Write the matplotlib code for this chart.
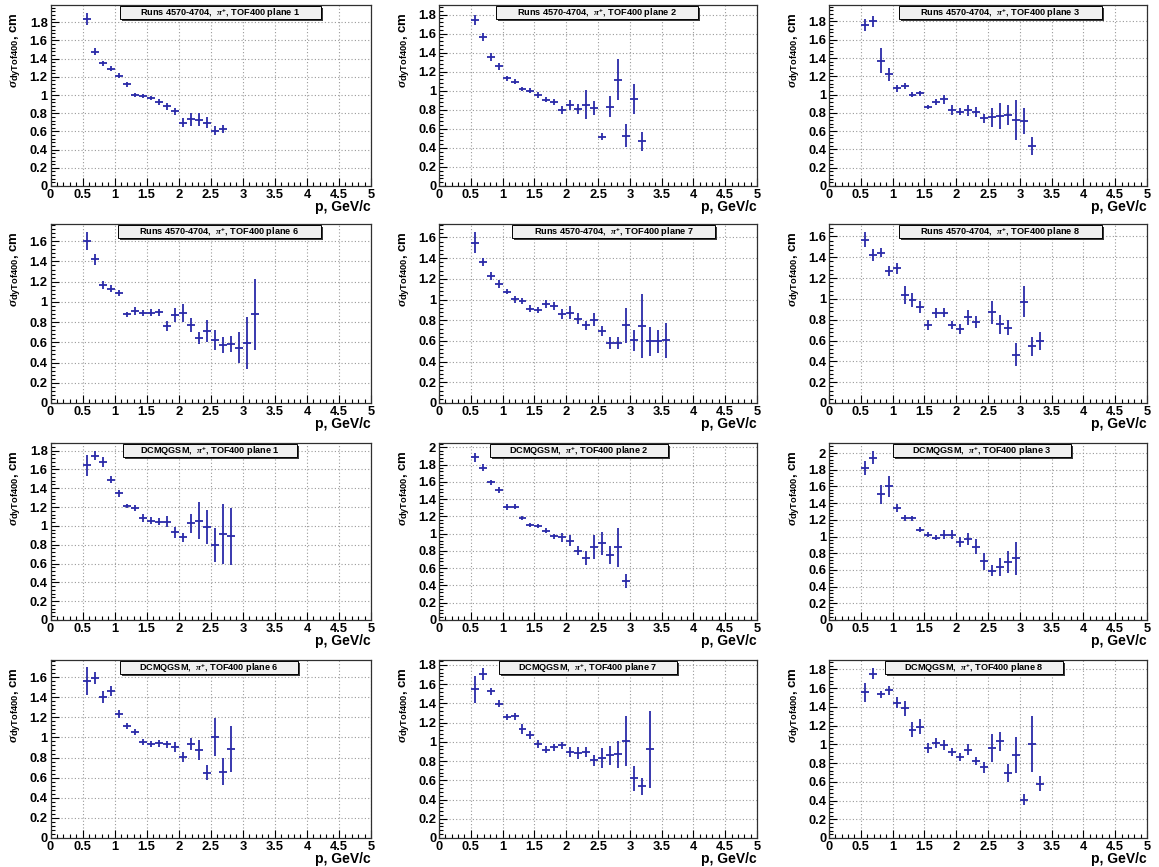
import numpy as np
import matplotlib
matplotlib.use("Agg")
import matplotlib.pyplot as plt
from matplotlib.patches import Rectangle
from matplotlib.ticker import MultipleLocator, FuncFormatter

plt.rcParams['font.family'] = ['Liberation Sans', 'DejaVu Sans']
plt.rcParams['font.weight'] = 'bold'
plt.rcParams['mathtext.fontset'] = 'custom'
plt.rcParams['mathtext.rm'] = 'Liberation Sans:bold'
plt.rcParams['mathtext.bf'] = 'Liberation Sans:bold'
plt.rcParams['mathtext.it'] = 'Liberation Serif:italic'

# momentum bin centres (GeV/c); bin width 0.125
p_centres = [0.5625, 0.6875, 0.8125, 0.9375, 1.0625, 1.1875, 1.3125, 1.4375,
             1.5625, 1.6875, 1.8125, 1.9375, 2.0625, 2.1875, 2.3125, 2.4375,
             2.5625, 2.6875, 2.8125, 2.9375, 3.0625, 3.1875, 3.3125, 3.4375,
             3.5625]
BIN_HALF = 0.0625

# experimental data, runs 4570-4704
run_p1 = [1.837, 1.478, 1.349, 1.290, 1.212, 1.116, 0.998, 0.987, 0.968, 0.924,
          0.876, 0.820, 0.698, 0.735, 0.728, 0.698, 0.610, 0.628]
run_p1_err = [0.065, 0.035, 0.025, 0.030, 0.025, 0.030, 0.020, 0.020, 0.025, 0.030,
              0.040, 0.040, 0.050, 0.070, 0.070, 0.060, 0.050, 0.040]

run_p2 = [1.740, 1.565, 1.355, 1.257, 1.131, 1.096, 1.015, 1.001, 0.959, 0.907,
          0.879, 0.795, 0.851, 0.809, 0.854, 0.819, 0.518, 0.830, 1.117, 0.529,
          0.914, 0.469]
run_p2_err = [0.055, 0.040, 0.040, 0.035, 0.025, 0.030, 0.020, 0.030, 0.030, 0.030,
              0.030, 0.040, 0.050, 0.050, 0.150, 0.070, 0.035, 0.110, 0.215, 0.120,
              0.155, 0.100]

run_p3 = [1.764, 1.800, 1.372, 1.222, 1.068, 1.094, 0.999, 1.014, 0.864, 0.922,
          0.948, 0.831, 0.812, 0.831, 0.809, 0.743, 0.750, 0.765, 0.776, 0.721,
          0.710, 0.435]
run_p3_err = [0.065, 0.065, 0.140, 0.070, 0.035, 0.030, 0.030, 0.030, 0.025, 0.035,
              0.050, 0.050, 0.040, 0.060, 0.050, 0.050, 0.100, 0.140, 0.110, 0.220,
              0.140, 0.100]

run_p6 = [1.600, 1.419, 1.165, 1.132, 1.085, 0.878, 0.911, 0.894, 0.891, 0.897,
          0.762, 0.868, 0.891, 0.769, 0.647, 0.713, 0.620, 0.571, 0.581, 0.548,
          0.594, 0.878]
run_p6_err = [0.092, 0.050, 0.040, 0.035, 0.030, 0.025, 0.040, 0.030, 0.035, 0.035,
              0.050, 0.070, 0.090, 0.070, 0.060, 0.110, 0.100, 0.080, 0.080, 0.150,
              0.260, 0.350]

run_p7 = [1.549, 1.365, 1.227, 1.149, 1.075, 1.001, 0.985, 0.911, 0.901, 0.959,
          0.937, 0.863, 0.873, 0.815, 0.750, 0.805, 0.699, 0.580, 0.580, 0.750,
          0.605, 0.741, 0.596, 0.596, 0.605]
run_p7_err = [0.100, 0.040, 0.035, 0.035, 0.025, 0.030, 0.030, 0.035, 0.030, 0.040,
              0.040, 0.050, 0.060, 0.050, 0.040, 0.060, 0.050, 0.060, 0.060, 0.170,
              0.100, 0.310, 0.140, 0.110, 0.170]

run_p8 = [1.571, 1.421, 1.444, 1.271, 1.294, 1.038, 0.990, 0.920, 0.751, 0.862,
          0.869, 0.751, 0.712, 0.824, 0.776, np.nan, 0.872, 0.757, 0.725, 0.463,
          0.974, 0.543, 0.597]
run_p8_err = [0.070, 0.060, 0.045, 0.050, 0.050, 0.090, 0.070, 0.060, 0.050, 0.050,
              0.040, 0.040, 0.050, 0.070, 0.060, np.nan, 0.110, 0.090, 0.070, 0.110,
              0.150, 0.090, 0.090]

# DCM-QGSM simulation
sim_p1 = [1.642, 1.747, 1.677, 1.491, 1.344, 1.210, 1.193, 1.081, 1.056, 1.046,
          1.046, 0.930, 0.877, 1.028, 1.056, 0.986, 0.793, 0.916, 0.888]
sim_p1_err = [0.110, 0.050, 0.050, 0.040, 0.035, 0.025, 0.030, 0.040, 0.035, 0.035,
              0.060, 0.060, 0.050, 0.100, 0.200, 0.180, 0.180, 0.320, 0.300]

sim_p2 = [1.884, 1.761, 1.595, 1.506, 1.309, 1.313, 1.181, 1.104, 1.089, 1.035,
          0.969, 0.958, 0.919, 0.803, 0.714, 0.849, 0.888, 0.753, 0.842, 0.456]
sim_p2_err = [0.050, 0.040, 0.030, 0.040, 0.030, 0.030, 0.020, 0.025, 0.020, 0.025,
              0.030, 0.050, 0.060, 0.050, 0.080, 0.140, 0.130, 0.100, 0.225, 0.080]

sim_p3 = [1.820, 1.944, 1.504, 1.600, 1.340, 1.224, 1.220, 1.080, 1.020, 0.984,
          1.024, 1.024, 0.940, 0.972, 0.880, 0.704, 0.592, 0.632, 0.692, 0.740]
sim_p3_err = [0.080, 0.080, 0.110, 0.130, 0.050, 0.035, 0.030, 0.030, 0.030, 0.030,
              0.050, 0.050, 0.060, 0.070, 0.090, 0.100, 0.070, 0.110, 0.130, 0.200]

sim_p6 = [1.560, 1.593, 1.405, 1.461, 1.233, 1.114, 1.058, 0.959, 0.936, 0.942,
          0.932, 0.909, 0.803, 0.936, 0.876, 0.651, 1.008, 0.661, 0.886]
sim_p6_err = [0.140, 0.060, 0.060, 0.050, 0.040, 0.030, 0.030, 0.030, 0.030, 0.035,
              0.035, 0.050, 0.050, 0.060, 0.100, 0.070, 0.190, 0.130, 0.230]

sim_p7 = [1.547, 1.703, 1.523, 1.395, 1.256, 1.263, 1.135, 1.073, 0.980, 0.917,
          0.942, 0.962, 0.893, 0.886, 0.893, 0.806, 0.831, 0.858, 0.872, 1.004,
          0.623, 0.537, 0.924]
sim_p7_err = [0.140, 0.060, 0.040, 0.035, 0.030, 0.035, 0.050, 0.040, 0.040, 0.035,
              0.035, 0.040, 0.050, 0.060, 0.050, 0.060, 0.100, 0.100, 0.140, 0.260,
              0.130, 0.090, 0.400]

sim_p8 = [1.557, 1.753, 1.532, 1.575, 1.443, 1.383, 1.158, 1.187, 0.962, 1.016,
          0.991, 0.916, 0.862, 0.944, 0.820, 0.756, 0.962, 1.033, 0.695, 0.884,
          0.410, 1.005, 0.577]
sim_p8_err = [0.100, 0.060, 0.040, 0.050, 0.060, 0.080, 0.080, 0.080, 0.050, 0.050,
              0.050, 0.040, 0.045, 0.060, 0.040, 0.060, 0.150, 0.100, 0.100, 0.190,
              0.060, 0.300, 0.080]

titles = [
    r"Runs 4570-4704,  $\pi^{+}$, TOF400 plane 1",
    r"Runs 4570-4704,  $\pi^{+}$, TOF400 plane 2",
    r"Runs 4570-4704,  $\pi^{+}$, TOF400 plane 3",
    r"Runs 4570-4704,  $\pi^{+}$, TOF400 plane 6",
    r"Runs 4570-4704,  $\pi^{+}$, TOF400 plane 7",
    r"Runs 4570-4704,  $\pi^{+}$, TOF400 plane 8",
    r"DCMQGSM,  $\pi^{+}$, TOF400 plane 1",
    r"DCMQGSM,  $\pi^{+}$, TOF400 plane 2",
    r"DCMQGSM,  $\pi^{+}$, TOF400 plane 3",
    r"DCMQGSM,  $\pi^{+}$, TOF400 plane 6",
    r"DCMQGSM,  $\pi^{+}$, TOF400 plane 7",
    r"DCMQGSM,  $\pi^{+}$, TOF400 plane 8",
]
series = [(run_p1, run_p1_err), (run_p2, run_p2_err), (run_p3, run_p3_err),
          (run_p6, run_p6_err), (run_p7, run_p7_err), (run_p8, run_p8_err),
          (sim_p1, sim_p1_err), (sim_p2, sim_p2_err), (sim_p3, sim_p3_err),
          (sim_p6, sim_p6_err), (sim_p7, sim_p7_err), (sim_p8, sim_p8_err)]
y_top = [1.99, 1.9, 1.98, 1.77, 1.73, 1.72, 1.88, 2.05, 2.12, 1.77, 1.85, 1.9]

x_label = "p, GeV/c"
y_label = r"$\sigma_{\mathbf{dyTof400}}$, cm"

# ---- page layout (pixels) ----
W, H = 1159, 867
col_px = [(50.5, 371), (439, 757), (829, 1147)]
row_px = [(5, 186), (224, 403), (443, 620), (660, 838)]
box_px = [(120, 321), (496, 698), (899, 1102),
          (118, 321), (512, 715), (899, 1102),
          (123, 297), (490, 668), (893, 1071),
          (120, 298), (499, 677), (885, 1063)]
BOX_H = 12.5

blue = '#2a2aa8'
grid_col = '#9a9a9a'

fig = plt.figure(figsize=(W / 100, H / 100), dpi=100)
fig.patch.set_facecolor('white')

fmt = FuncFormatter(lambda v, _: f"{v:g}" if abs(v) > 1e-9 else "0")

for i, ((y, e), title, top) in enumerate(zip(series, titles, y_top)):
    r, c = divmod(i, 3)
    l, rgt = col_px[c]
    t, b = row_px[r]
    ax = fig.add_axes([l / W, 1 - b / H, (rgt - l) / W, (b - t) / H])
    n = len(y)
    ax.errorbar(p_centres[:n], y, yerr=e, xerr=BIN_HALF, fmt='none',
                ecolor=blue, elinewidth=1.3, capsize=0)
    ax.set_xlim(0, 5)
    ax.set_ylim(0, top)
    ax.xaxis.set_major_locator(MultipleLocator(0.5))
    ax.xaxis.set_minor_locator(MultipleLocator(0.1))
    ax.yaxis.set_major_locator(MultipleLocator(0.2))
    ax.yaxis.set_minor_locator(MultipleLocator(0.04))
    ax.xaxis.set_major_formatter(fmt)
    ax.yaxis.set_major_formatter(fmt)
    ax.tick_params(which='both', direction='in', top=False, right=False,
                   labelsize=9.3, width=0.8, color='black')
    ax.tick_params(which='major', length=5.5)
    ax.tick_params(which='minor', length=2.8)
    ax.tick_params(axis='x', pad=2.5)
    ax.tick_params(axis='y', pad=2)
    for lab in ax.get_xticklabels() + ax.get_yticklabels():
        lab.set_fontweight('bold')
    ax.grid(True, which='major', color=grid_col, linestyle=(0, (1, 2)), linewidth=0.8)
    ax.set_axisbelow(True)
    for s in ax.spines.values():
        s.set_linewidth(0.9)
        s.set_color('#303030')

    ax.annotate(x_label, xy=(1, 0), xycoords='axes fraction',
                xytext=(0, -10), textcoords='offset points',
                ha='right', va='top', fontsize=10, fontweight='bold')
    ax.annotate(y_label, xy=(0, 1), xycoords='axes fraction',
                xytext=(-25, -5), textcoords='offset points',
                ha='center', va='top', rotation=90, fontsize=9.5, fontweight='bold')

    # title pave with drop shadow
    bl, br = box_px[i]
    bt = t + 1
    sh = 2
    fig.add_artist(Rectangle(((bl + sh) / W, 1 - (bt + BOX_H + sh) / H),
                             (br - bl) / W, BOX_H / H, transform=fig.transFigure,
                             facecolor='#3a3a3a', edgecolor='none', zorder=5))
    fig.add_artist(Rectangle((bl / W, 1 - (bt + BOX_H) / H),
                             (br - bl) / W, BOX_H / H, transform=fig.transFigure,
                             facecolor='#f0f0f0', edgecolor='black', linewidth=0.7,
                             zorder=6))
    fig.text((bl + br) / 2 / W, 1 - (bt + BOX_H / 2) / H, title,
             ha='center', va='center', fontsize=6.6, fontweight='bold', zorder=7)

fig.savefig('out.png', dpi=100)
